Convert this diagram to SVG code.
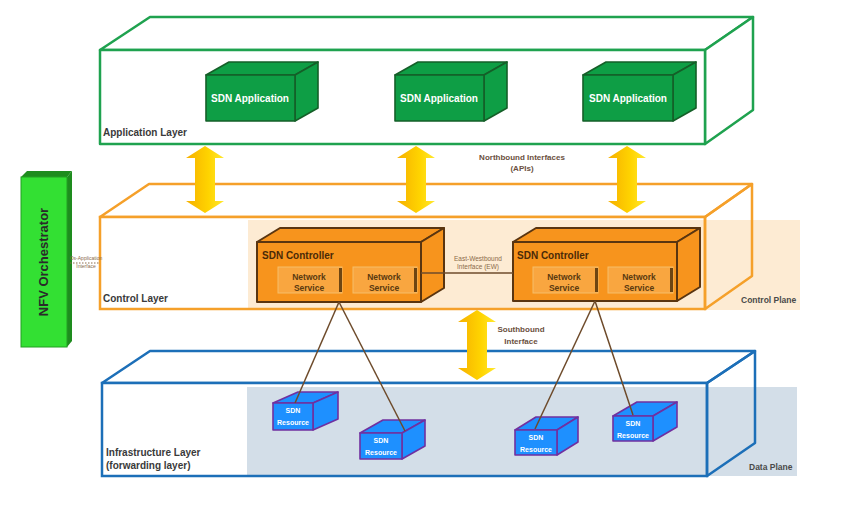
<svg xmlns="http://www.w3.org/2000/svg" width="865" height="518" viewBox="0 0 865 518">
<defs>
<linearGradient id="yel" x1="0" y1="0" x2="1" y2="0">
<stop offset="0" stop-color="#F6B000"/>
<stop offset="0.6" stop-color="#FFD400"/>
<stop offset="1" stop-color="#FFE830"/>
</linearGradient>
<style>
text{font-family:"Liberation Sans",Arial,sans-serif;}
.lay{fill:#fff;stroke-width:2.5;stroke-linejoin:round;}
.lg{stroke:#1FA24F;} .lo{stroke:#F5A02A;} .lb{stroke:#1C6FB8;}
.nofill{fill:none;}
.lbl{font-size:10px;font-weight:bold;fill:#3A3A3A;}
.plane{font-size:8.5px;font-weight:bold;fill:#4A4A4A;}
.app{fill:#0E9E45;stroke:#155F28;stroke-width:1.6;stroke-linejoin:round;}
.apptx{font-size:10px;font-weight:bold;fill:#fff;text-anchor:middle;}
.ctl{fill:#F7941D;stroke:#5A3510;stroke-width:2;stroke-linejoin:round;}
.ctltx{font-size:10px;font-weight:bold;fill:#4A2A08;}
.ns{fill:#F9A640;stroke:#F6BE6A;stroke-width:1;}
.nsd{fill:#6E4512;}
.nstx{font-size:8.5px;font-weight:bold;fill:#5A3A10;text-anchor:middle;}
.res{fill:#1E90FF;stroke:#7030A0;stroke-width:1.6;stroke-linejoin:round;}
.restx{font-size:7px;font-weight:bold;fill:#fff;text-anchor:middle;}
.conn{stroke:#6E4B2B;stroke-width:1.5;fill:none;}
.arrow{fill:url(#yel);}
.itx{font-size:8px;font-weight:bold;fill:#6B5040;text-anchor:middle;}
.small{font-size:6.5px;fill:#8A6A4A;text-anchor:middle;}
</style>
</defs>
<rect width="865" height="518" fill="#fff"/>

<g id="application-layer">
<polygon class="lay lg" points="100,50 150,17 753,17 705,50"/>
<polygon class="lay lg" points="705,50 753,17 753,110 705,144"/>
<rect class="lay lg" x="100" y="50" width="605" height="94"/>
<text class="lbl" x="103" y="136">Application Layer</text>
</g>

<g id="control-layer">
<polygon class="lay lo" points="100,217 149,184 752,184 705,217"/>
<rect x="100" y="217" width="605" height="92" fill="#fff"/>
<rect x="248" y="220" width="552" height="90" fill="#FDEBD3"/>
<polygon class="lo nofill" stroke-width="2.5" stroke-linejoin="round" points="705,217 752,184 752,276 705,309"/>
<rect class="lo nofill" stroke-width="2.5" x="100" y="217" width="605" height="92"/>
<text class="lbl" x="103" y="302">Control Layer</text>
<text class="plane" x="741" y="303">Control Plane</text>
</g>

<g id="infrastructure-layer">
<polygon class="lay lb" points="102,383 150,351 755,351 707,383"/>
<rect x="102" y="383" width="605" height="93" fill="#fff"/>
<rect x="247" y="387" width="550" height="89" fill="#D3DEE8"/>
<polygon class="lb nofill" stroke-width="2.5" stroke-linejoin="round" points="707,383 755,351 755,443 707,476"/>
<rect class="lb nofill" stroke-width="2.5" x="102" y="383" width="605" height="93"/>
<text class="lbl" x="106" y="456">Infrastructure Layer</text>
<text class="lbl" x="106" y="469">(forwarding layer)</text>
<text class="plane" x="749" y="470">Data Plane</text>
</g>

<g id="sdn-app-1">
<polygon class="app" points="206,75 229,62 318,62 295,75"/>
<polygon class="app" points="295,75 318,62 318,108 295,121"/>
<rect class="app" x="206" y="75" width="89" height="46"/>
<text class="apptx" x="250" y="102">SDN Application</text>
</g>
<g id="sdn-app-2">
<polygon class="app" points="395,75 418,62 507,62 484,75"/>
<polygon class="app" points="484,75 507,62 507,108 484,121"/>
<rect class="app" x="395" y="75" width="89" height="46"/>
<text class="apptx" x="439" y="102">SDN Application</text>
</g>
<g id="sdn-app-3">
<polygon class="app" points="583,75 606,62 696,62 673,75"/>
<polygon class="app" points="673,75 696,62 696,108 673,121"/>
<rect class="app" x="583" y="75" width="90" height="46"/>
<text class="apptx" x="628" y="102">SDN Application</text>
</g>

<g id="nfv-orchestrator">
<polygon points="21,177 27,171 72,171 67,177" fill="#1E8C1E"/>
<polygon points="67,177 72,171 72,341 67,347" fill="#1E8C1E"/>
<rect x="21" y="177" width="46" height="170" fill="#33E033" stroke="#22A022" stroke-width="1"/>
<text x="48" y="262" transform="rotate(-90 48 262)" font-size="13" font-weight="bold" fill="#2A2A2A" text-anchor="middle">NFV Orchestrator</text>
</g>

<g id="sdn-controller-1">
<polygon class="ctl" points="257,242 280,228 444,228 421,242"/>
<polygon class="ctl" points="421,242 444,228 444,288 421,302"/>
<rect class="ctl" x="257" y="242" width="164" height="60"/>
<text class="ctltx" x="262" y="259">SDN Controller</text>
<g id="ns-1a"><rect class="ns" x="278" y="267" width="64" height="26"/><rect class="nsd" x="339" y="268" width="3" height="24"/>
<text class="nstx" x="309" y="280">Network</text><text class="nstx" x="309" y="291">Service</text></g>
<g id="ns-1b"><rect class="ns" x="353" y="267" width="64" height="26"/><rect class="nsd" x="414" y="268" width="3" height="24"/>
<text class="nstx" x="384" y="280">Network</text><text class="nstx" x="384" y="291">Service</text></g>
</g>

<g id="sdn-controller-2">
<polygon class="ctl" points="513,242 536,228 700,228 677,242"/>
<polygon class="ctl" points="677,242 700,228 700,287 677,301"/>
<rect class="ctl" x="513" y="242" width="164" height="59"/>
<text class="ctltx" x="517" y="259">SDN Controller</text>
<g id="ns-2a"><rect class="ns" x="533" y="267" width="65" height="26"/><rect class="nsd" x="595" y="268" width="3" height="24"/>
<text class="nstx" x="564" y="280">Network</text><text class="nstx" x="564" y="291">Service</text></g>
<g id="ns-2b"><rect class="ns" x="608" y="267" width="65" height="26"/><rect class="nsd" x="670" y="268" width="3" height="24"/>
<text class="nstx" x="639" y="280">Network</text><text class="nstx" x="639" y="291">Service</text></g>
</g>

<g id="sdn-resource-1">
<polygon class="res" points="273,403 298,392 338,392 313,403"/>
<polygon class="res" points="313,403 338,392 338,419 313,430"/>
<rect class="res" x="273" y="403" width="40" height="27"/>
<text class="restx" x="293" y="413">SDN</text><text class="restx" x="293" y="425">Resource</text>
</g>
<g id="sdn-resource-2">
<polygon class="res" points="360,433 383,420 425,420 402,433"/>
<polygon class="res" points="402,433 425,420 425,446 402,459"/>
<rect class="res" x="360" y="433" width="42" height="26"/>
<text class="restx" x="381" y="443">SDN</text><text class="restx" x="381" y="455">Resource</text>
</g>
<g id="sdn-resource-3">
<polygon class="res" points="515,430 536,417 578,417 557,430"/>
<polygon class="res" points="557,430 578,417 578,442 557,455"/>
<rect class="res" x="515" y="430" width="42" height="25"/>
<text class="restx" x="536" y="440">SDN</text><text class="restx" x="536" y="452">Resource</text>
</g>
<g id="sdn-resource-4">
<polygon class="res" points="613,416 637,402 677,402 653,416"/>
<polygon class="res" points="653,416 677,402 677,427 653,441"/>
<rect class="res" x="613" y="416" width="40" height="25"/>
<text class="restx" x="633" y="426">SDN</text><text class="restx" x="633" y="438">Resource</text>
</g>

<g id="connectors">
<path class="arrow" d="M205,146 L224,158 L215,158 L215,201 L224,201 L205,213 L186,201 L195,201 L195,158 L186,158 Z"/>
<path class="arrow" d="M416,146 L435,158 L426,158 L426,201 L435,201 L416,213 L397,201 L406,201 L406,158 L397,158 Z"/>
<path class="arrow" d="M627,146 L646,158 L637,158 L637,201 L646,201 L627,213 L608,201 L617,201 L617,158 L608,158 Z"/>
<path class="arrow" d="M477,310 L496,322 L487,322 L487,368 L496,368 L477,380 L458,368 L467,368 L467,322 L458,322 Z"/>
<line class="conn" x1="421" y1="273" x2="513" y2="273"/>
<line class="conn" x1="339" y1="302" x2="295" y2="403"/>
<line class="conn" x1="339" y1="302" x2="405" y2="431"/>
<line class="conn" x1="595" y1="301" x2="535" y2="429"/>
<line class="conn" x1="595" y1="301" x2="633" y2="415"/>
<line x1="70" y1="263" x2="100" y2="263" stroke="#8A6A4A" stroke-width="1" stroke-dasharray="1.5,1.5"/>
<text class="itx" x="522" y="160">Northbound Interfaces</text>
<text class="itx" x="522" y="171">(APIs)</text>
<text class="itx" x="521" y="332">Southbound</text>
<text class="itx" x="521" y="344">Interface</text>
<text class="small" x="478" y="261">East-Westbound</text>
<text class="small" x="478" y="269">Interface (EW)</text>
<text x="86" y="260" font-size="5" fill="#8A6A4A" text-anchor="middle">Os-Application</text>
<text x="86" y="268" font-size="5" fill="#8A6A4A" text-anchor="middle">Interface</text>
</g>
</svg>
